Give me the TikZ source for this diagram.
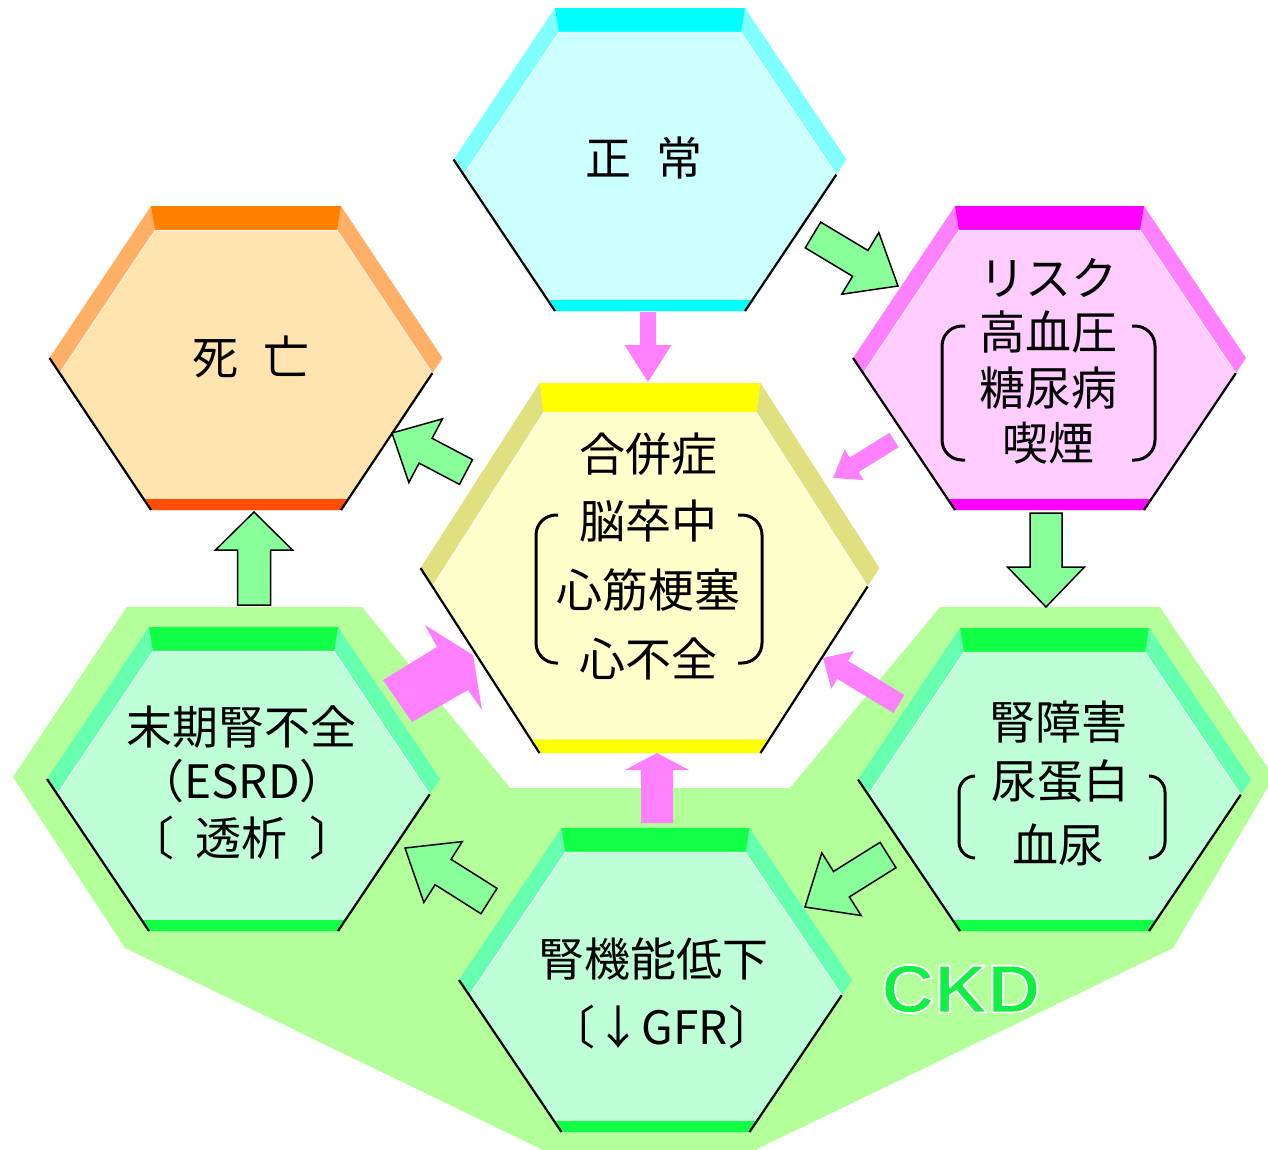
\documentclass[tikz,border=0pt]{standalone}
\usepackage{fontspec}
\usetikzlibrary{calc}
\newfontfamily\jp{Noto Sans CJK JP}
\newfontfamily\ckdfont{Liberation Sans}
\definecolor{ckdbg}{HTML}{B3FF99}
\definecolor{cyTop}{HTML}{00FFFF}\definecolor{cyBev}{HTML}{80FFFF}\definecolor{cyFace}{HTML}{CCFFFF}
\definecolor{orTop}{HTML}{FF8000}\definecolor{orBev}{HTML}{FFB066}\definecolor{orFace}{HTML}{FFE4B0}\definecolor{orBot}{HTML}{FF4D00}
\definecolor{mgTop}{HTML}{FF00FF}\definecolor{mgBev}{HTML}{FF80FF}\definecolor{mgFace}{HTML}{FFCCFF}
\definecolor{yeTop}{HTML}{FFFF00}\definecolor{yeBev}{HTML}{E0E080}\definecolor{yeFace}{HTML}{FFFFCC}
\definecolor{gnTop}{HTML}{11FF44}\definecolor{gnBev}{HTML}{66FFB0}\definecolor{gnFace}{HTML}{BFFFD8}
\definecolor{garrow}{HTML}{88FF99}
\definecolor{parrow}{HTML}{FF80FF}
\definecolor{ckdtext}{HTML}{11EE44}
\newcommand\hexa[9]{%
 \pgfmathsetmacro\hxcx{#1}\pgfmathsetmacro\hxcy{#2}\pgfmathsetmacro\hxW{#3}%
 \pgfmathsetmacro\hxa{#4}\pgfmathsetmacro\hxH{#5}%
 \pgfmathsetmacro\hxt{0.16*\hxH}\pgfmathsetmacro\hxb{0.072*\hxH}%
 \pgfmathsetmacro\hxd{0.1*\hxH}\pgfmathsetmacro\hxs{(\hxW-\hxa)/\hxH}%
 \coordinate (TL) at ({\hxcx-\hxa},{\hxcy-\hxH});
 \coordinate (TR) at ({\hxcx+\hxa},{\hxcy-\hxH});
 \coordinate (R) at ({\hxcx+\hxW},{\hxcy});
 \coordinate (BR) at ({\hxcx+\hxa},{\hxcy+\hxH});
 \coordinate (BL) at ({\hxcx-\hxa},{\hxcy+\hxH});
 \coordinate (L) at ({\hxcx-\hxW},{\hxcy});
 \coordinate (TLi) at ({\hxcx-\hxa+4},{\hxcy-\hxH+\hxt});
 \coordinate (TRi) at ({\hxcx+\hxa-4},{\hxcy-\hxH+\hxt});
 \coordinate (Ri) at ({\hxcx+\hxW-\hxd*\hxs},{\hxcy+\hxd});
 \coordinate (Li) at ({\hxcx-\hxW+\hxd*\hxs},{\hxcy+\hxd});
 \coordinate (BRb) at ({\hxcx+\hxa+\hxb*\hxs},{\hxcy+\hxH-\hxb});
 \coordinate (BLb) at ({\hxcx-\hxa-\hxb*\hxs},{\hxcy+\hxH-\hxb});
 \fill[#7] (TL)--(TR)--(R)--(BR)--(BL)--(L)--cycle;
 \fill[#6] (TL)--(TR)--(TRi)--(TLi)--cycle;
 \fill[#8] (TLi)--(TRi)--(Ri)--(BRb)--(BLb)--(Li)--cycle;
 \fill[#9] (BLb)--(BRb)--(BR)--(BL)--cycle;
 \draw[white,line width=0.9pt,opacity=0.8] (Li)--(TLi)--(TRi)--(Ri);
 \draw[line width=2.2pt] (L)--(BL);
 \draw[line width=2.2pt] (Ri)--(BR);
}
\newcommand\barrow[6]{%
 \coordinate (bN) at ($(#3)!#6pt!(#2)$);
 \path[#1] ($(#2)!#4pt!90:(#3)$) -- ($(bN)!#4pt!-90:(#2)$) -- ($(bN)!#5pt!-90:(#2)$) -- (#3)
   -- ($(bN)!#5pt!90:(#2)$) -- ($(bN)!#4pt!90:(#2)$) -- ($(#2)!#4pt!-90:(#3)$) -- cycle;}
\newcommand\outlinedtext[1]{\special{pdf:literal direct 1 1 1 RG 1.8 w 1 j 2 Tr}#1\special{pdf:literal direct 0 Tr}}
\begin{document}
\begin{tikzpicture}[x=1pt,y=-1pt,
  jt/.style={font=\jp\fontsize{46pt}{50pt}\selectfont,inner sep=0pt,text=black},
  ckd/.style={font=\ckdfont\bfseries\fontsize{68pt}{68pt}\selectfont,inner sep=0pt},
  brk/.style={line width=3pt,rounded corners=20pt},
  garr/.style={fill=garrow,draw=black,line width=1.5pt,line join=miter},
  parr/.style={fill=parrow}]
\useasboundingbox (0,0) rectangle (1268,1149);
\clip (0,0) rectangle (1268,1149);
\fill[white] (0,0) rectangle (1268,1149);
% CKD background
\fill[ckdbg] (127,607) -- (362,607) -- (510,788) -- (790,788) -- (940,607) -- (1160,607)
  -- (1274,777) -- (1173,948) -- (757,1149) -- (740,1170) -- (560,1170) -- (541,1149)
  -- (125,948) -- (13,777) -- cycle;
% hexagons
\hexa{650}{159.5}{196.5}{95}{151.5}{cyTop}{cyBev}{cyFace}{cyTop}
\hexa{246}{358}{196.5}{95}{152}{orTop}{orBev}{orFace}{orBot}
\hexa{1049.5}{358}{196.5}{94.5}{152}{mgTop}{mgBev}{mgFace}{mgTop}
\hexa{650}{568}{229.5}{110.5}{185}{yeTop}{yeBev}{yeFace}{yeTop}
\hexa{243.5}{779}{196.5}{94.5}{152}{gnTop}{gnBev}{gnFace}{gnTop}
\hexa{1054.5}{779.5}{196.5}{94.5}{151.5}{gnTop}{gnBev}{gnFace}{gnTop}
\hexa{655.5}{980}{196.5}{94}{152}{gnTop}{gnBev}{gnFace}{gnTop}
% texts
\node[jt] (seijo) at (644,158) {正\hspace{26pt}常};
\node[jt] (shibo) at (251,357) {死\hspace{26pt}亡};
\node[jt] (risk1) at (1048,278) {リスク};
\node[jt] (risk2) at (1048,332) {高血圧};
\node[jt] (risk3) at (1048,388) {糖尿病};
\node[jt] (risk4) at (1048,443) {喫煙};
\node[jt] (gap1) at (648,454) {合併症};
\node[jt] (gap2) at (648,521) {脳卒中};
\node[jt] (gap3) at (648,590) {心筋梗塞};
\node[jt] (gap4) at (648,659) {心不全};
\node[jt] (esrd1) at (241,727) {末期腎不全};
\node[jt] (esrd2) at (242,781) {（ESRD）};
\node[jt] (esrd3) at (242,838) {〔\hspace{22pt}透析\hspace{22pt}〕};
\node[jt] (gfr1) at (653,959) {腎機能低下};
\node[jt] (gfr2) at (662,1027) {〔↓GFR〕};
\node[jt] (kid1) at (1058,722) {腎障害};
\node[jt] (kid2) at (1060,781) {尿蛋白};
\node[jt] (kid3) at (1058,845) {血尿};
% brackets
\draw[brk] (965,326) -- (942,326) -- (942,460) -- (965,460);
\draw[brk] (1132,326) -- (1155,326) -- (1155,460) -- (1132,460);
\draw[brk] (558,515) -- (536,515) -- (536,663) -- (558,663);
\draw[brk] (738,515) -- (762,515) -- (762,663) -- (738,663);
\draw[brk,rounded corners=16pt] (975,776) -- (959,776) -- (959,858) -- (975,858);
\draw[brk,rounded corners=16pt] (1150,776) -- (1165,776) -- (1165,858) -- (1150,858);
% CKD label
\node[ckd,text=ckdtext] (ckdlabel) at (961,989) {\scalebox{1.08}[1]{\outlinedtext{CKD}}};
% arrow end points
\coordinate (a1s) at (813,235); \coordinate (a1e) at (898,286);
\coordinate (a2s) at (466,472); \coordinate (a2e) at (392,433);
\coordinate (a3s) at (254,605); \coordinate (a3e) at (254,512);
\coordinate (a4s) at (489,901); \coordinate (a4e) at (405,848);
\coordinate (a5s) at (888,855); \coordinate (a5e) at (805,907);
\coordinate (a6s) at (1046,513); \coordinate (a6e) at (1046,607);
\coordinate (p1s) at (648,312); \coordinate (p1e) at (648,382);
\coordinate (p2s) at (894,440); \coordinate (p2e) at (833,478);
\coordinate (p4s) at (899,704); \coordinate (p4e) at (823,658);
\coordinate (p5s) at (657,823); \coordinate (p5e) at (657,753);
% green arrows
\barrow{garr}{a1s}{a1e}{15}{36}{44}
\barrow{garr}{a2s}{a2e}{14}{36}{38}
\barrow{garr}{a3s}{a3e}{16.5}{38.5}{38}
\barrow{garr}{a4s}{a4e}{15}{36}{45}
\barrow{garr}{a5s}{a5e}{15}{37}{43}
\barrow{garr}{a6s}{a6e}{16}{38.5}{40}
% pink arrows
\barrow{parr}{p1s}{p1e}{8}{23.5}{37}
\barrow{parr}{p2s}{p2e}{8.5}{18}{25}
\barrow{parr}{p4s}{p4e}{10.5}{22}{23}
\barrow{parr}{p5s}{p5e}{16}{32}{17}
\fill[parr] (383,680) -- (437,647) -- (425,625) -- (473,655) -- (482,710) -- (468,690) -- (412,722) -- cycle;
\end{tikzpicture}
\end{document}
